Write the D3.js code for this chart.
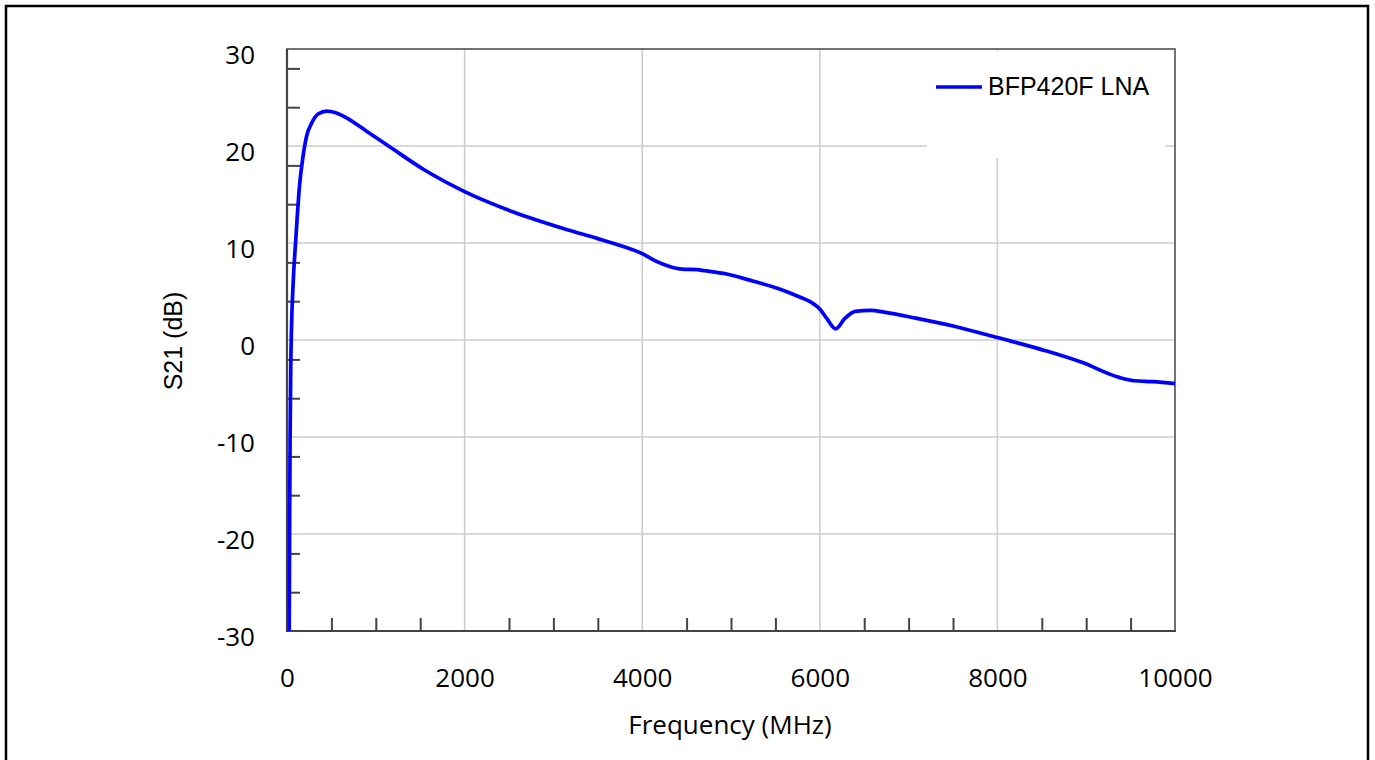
<!DOCTYPE html>
<html>
<head>
<meta charset="utf-8">
<script src="https://cdn.jsdelivr.net/npm/d3@7"></script>
<style>
  html, body { margin: 0; padding: 0; background: #ffffff; }
  svg { display: block; }
</style>
</head>
<body>
<svg id="chart" width="1375" height="760"></svg>
<script>
// ---- data ----
const freqMHz = [25, 30, 35, 42, 50, 70, 100, 140, 180, 220, 280, 350, 450, 540, 670, 900, 1160, 1535, 2000, 2550, 3110, 3500, 3700, 4000, 4160, 4300, 4450, 4620, 4700, 4950, 5200, 5530, 5780, 5900, 6000, 6080, 6180, 6280, 6400, 6570, 6740, 7080, 7500, 8000, 8540, 8950, 9370, 9540, 9750, 10000];
const s21dB   = [-30, -18, -10, -3, 1, 6, 10.5, 15.8, 18.9, 21, 22.4, 23.3, 23.6, 23.45, 22.9, 21.5, 19.9, 17.6, 15.3, 13.2, 11.5, 10.45, 9.9, 8.9, 8.1, 7.6, 7.3, 7.25, 7.15, 6.8, 6.2, 5.3, 4.4, 3.9, 3.2, 2.2, 1.15, 2.2, 2.95, 3.05, 2.85, 2.25, 1.45, 0.25, -1.1, -2.3, -3.85, -4.2, -4.3, -4.5];
const seriesName = "BFP420F LNA";
const xTickLabels = [0, 2000, 4000, 6000, 8000, 10000];
const yTickLabels = [-30, -20, -10, 0, 10, 20, 30];
const xMinorTicks = [500, 1000, 1500, 2500, 3000, 3500, 4500, 5000, 5500, 6500, 7000, 7500, 8500, 9000, 9500];
const yMinorTicks = [-26, -22, -16, -12, -6, -2, 4, 8, 14, 18, 24, 28];
const xTitle = "Frequency (MHz)";
const yTitle = "S21 (dB)";

// ---- layout ----
const svg = d3.select("#chart");
const L = 287, R = 1175, T = 49, B = 631;
const x = d3.scaleLinear().domain([0, 10000]).range([L, R]);
const y = d3.scaleLinear().domain([-30, 30]).range([B, T]);
const tickFont = "'Open Sans', 'Noto Sans', sans-serif";
const arialFont = "'Liberation Sans', Arial, sans-serif";
const axisColor = "#444444";

// outer frame
svg.append("rect")
  .attr("x", 6).attr("y", 6).attr("width", 1362).attr("height", 800)
  .attr("fill", "none").attr("stroke", "#000").attr("stroke-width", 2.5);

// gridlines
const grid = svg.append("g");
grid.selectAll("line.vx").data(xTickLabels.filter(d => d > 0 && d < 10000)).join("line")
  .attr("x1", d => x(d)).attr("x2", d => x(d)).attr("y1", T).attr("y2", B)
  .attr("stroke", "#cccccc").attr("stroke-width", 1.5);
grid.selectAll("line.hy").data(yTickLabels.filter(d => d > -30 && d < 30)).join("line")
  .attr("x1", L).attr("x2", R).attr("y1", d => y(d)).attr("y2", d => y(d))
  .attr("stroke", "#cccccc").attr("stroke-width", 1.5);

// legend background (covers gridlines)
svg.append("rect").attr("x", 927).attr("y", 51).attr("width", 238).attr("height", 107).attr("fill", "#fff");

// minor ticks (inward)
const xAxisMinor = d3.axisBottom(x).tickValues(xMinorTicks).tickSize(-13).tickFormat("");
const gx = svg.append("g").attr("transform", `translate(0,${B})`).call(xAxisMinor);
gx.select(".domain").remove();
gx.selectAll(".tick line").attr("stroke", axisColor).attr("stroke-width", 2);

const yAxisMinor = d3.axisLeft(y).tickValues(yMinorTicks).tickSize(-13).tickFormat("");
const gy = svg.append("g").attr("transform", `translate(${L},0)`).call(yAxisMinor);
gy.select(".domain").remove();
gy.selectAll(".tick line").attr("stroke", axisColor).attr("stroke-width", 2);

// tick labels
const xAxisLab = d3.axisBottom(x).tickValues(xTickLabels).tickSize(0).tickPadding(0).tickFormat(d => String(d));
const gxl = svg.append("g").attr("transform", `translate(0,${B})`).call(xAxisLab);
gxl.select(".domain").remove();
gxl.selectAll("text").attr("y", 56).attr("dy", null)
  .attr("font-family", tickFont).attr("font-size", 26).attr("fill", "#000");

const yAxisLab = d3.axisLeft(y).tickValues(yTickLabels).tickSize(0).tickPadding(0).tickFormat(d => String(d));
const gyl = svg.append("g").attr("transform", `translate(${L},0)`).call(yAxisLab);
gyl.select(".domain").remove();
gyl.selectAll("text").attr("x", -32).attr("dy", null).attr("y", 14)
  .attr("font-family", tickFont).attr("font-size", 26).attr("fill", "#000");

// plot frame
svg.append("rect").attr("x", L).attr("y", T).attr("width", R - L).attr("height", B - T)
  .attr("fill", "none").attr("stroke", axisColor).attr("stroke-width", 1.5);
svg.append("line").attr("x1", L).attr("x2", L).attr("y1", T).attr("y2", B + 1)
  .attr("stroke", axisColor).attr("stroke-width", 2.2);
svg.append("line").attr("x1", L).attr("x2", R + 1).attr("y1", B).attr("y2", B)
  .attr("stroke", axisColor).attr("stroke-width", 2.2);

// curve
const pts = freqMHz.map((f, i) => [f, s21dB[i]]);
const line = d3.line().x(d => x(d[0])).y(d => y(d[1])).curve(d3.curveMonotoneX);
svg.append("path").datum(pts).attr("d", line)
  .attr("fill", "none").attr("stroke", "#0000ff").attr("stroke-width", 3.7)
  .attr("stroke-linejoin", "round");

// legend
svg.append("line").attr("x1", 936).attr("x2", 982).attr("y1", 87).attr("y2", 87)
  .attr("stroke", "#0000ff").attr("stroke-width", 3.7);
svg.append("text").attr("x", 988).attr("y", 95).text(seriesName)
  .attr("font-family", arialFont).attr("font-size", 25).attr("fill", "#000");

// axis titles
svg.append("text").attr("x", 730).attr("y", 734).attr("text-anchor", "middle").text(xTitle)
  .attr("font-family", tickFont).attr("font-size", 26).attr("fill", "#000");
svg.append("text").attr("transform", "translate(182,341) rotate(-90)").attr("text-anchor", "middle").text(yTitle)
  .attr("font-family", arialFont).attr("font-size", 25).attr("fill", "#000");
</script>
</body>
</html>
